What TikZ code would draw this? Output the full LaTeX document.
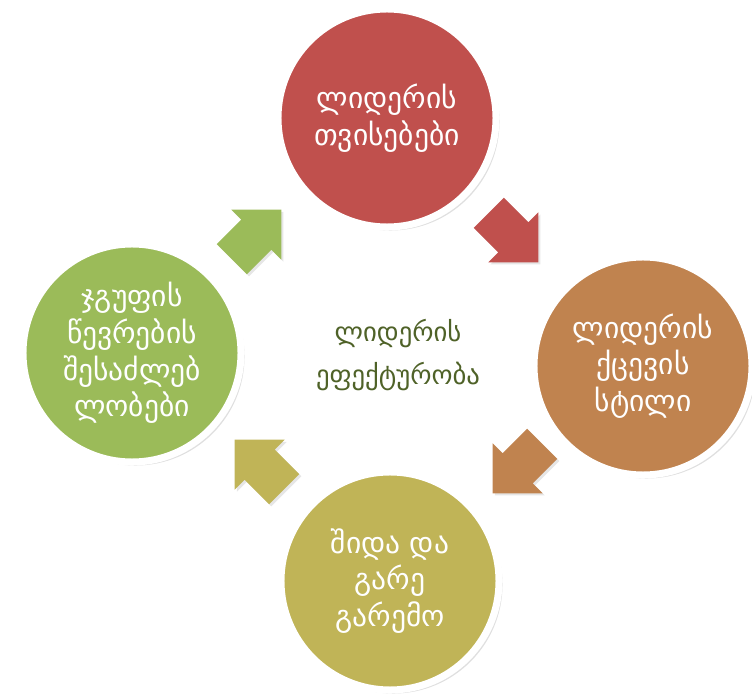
\documentclass[tikz,border=0pt]{standalone}
\usepackage{fontspec}
\setmainfont{DejaVu Sans}
\usetikzlibrary{shapes.arrows,shadows}
\definecolor{topred}{HTML}{C0504D}
\definecolor{rightbrown}{HTML}{C0834F}
\definecolor{bottomolive}{HTML}{C0B457}
\definecolor{leftgreen}{HTML}{9BBB59}
\definecolor{midgreen}{HTML}{4F6228}
\begin{document}
\begin{tikzpicture}[x=0.025cm, y=-0.025cm, main node/.style={circle,draw=white,line width=5pt,minimum size=5.45cm,inner sep=0pt,align=center,text=white,font=\fontsize{21}{26}\selectfont,drop shadow={opacity=.25,shadow xshift=2.5pt,shadow yshift=-2.5pt}},turn arrow/.style={single arrow,single arrow head extend=.35cm,minimum height=1.75cm,inner xsep=0pt,inner ysep=.525cm,outer sep=0pt,drop shadow={opacity=.2,shadow xshift=1.5pt,shadow yshift=-1.5pt}}]
\useasboundingbox (0,0) rectangle (752,695);
% circles
\node[main node,fill=topred] (c1) at (387,118) {ლიდერის\\თვისებები};
\node[main node,fill=rightbrown] (c2) at (643,366) {ლიდერის\\ქცევის\\სტილი};
\node[main node,fill=bottomolive] (c3) at (390,581) {შიდა და\\გარე\\გარემო};
\node[main node,fill=leftgreen] (c4) at (132,353) {ჯგუფის\\წევრების\\შესაძლებ\\ლობები};
\node[align=center,text=midgreen,font=\fontsize{19}{30}\selectfont] (cM) at (398,355) {ლიდერის\\ეფექტურობა};
% arrows between them
\node[turn arrow,fill=topred,rotate=-45] (a1) at (506,230) {};
\node[turn arrow,fill=rightbrown,rotate=-135] (a2) at (525,461) {};
\node[turn arrow,fill=bottomolive,rotate=135] (a3) at (267,472) {};
\node[turn arrow,fill=leftgreen,rotate=45] (a4) at (249,242) {};
\end{tikzpicture}
\end{document}
